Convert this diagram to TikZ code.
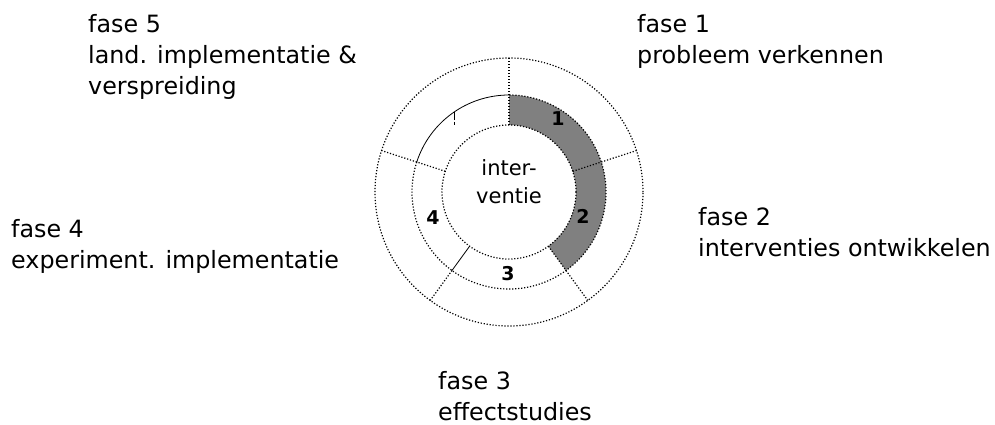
\documentclass[tikz,border=0pt]{standalone}
\usepackage{fontspec}
\setmainfont{DejaVu Sans}
\definecolor{phasegray}{HTML}{808080}
\begin{document}
\begin{tikzpicture}[x=1pt,y=-1pt,
  dots/.style={line width=1.2pt, dash pattern=on 1.2pt off 1.8pt},
  fine/.style={line width=0.8pt},
  phase/.style={anchor=base west, align=left, inner sep=0pt,
    font=\fontsize{23.8}{31}\selectfont},
  num/.style={inner sep=0pt, font=\fontsize{19}{19}\selectfont\bfseries},
  core/.style={anchor=base, inner sep=0pt, font=\fontsize{21}{28}\selectfont}]
\useasboundingbox (0,0) rectangle (995,425);

% the wheel, centred on (509,192), angles counted counter-clockwise
\begin{scope}[shift={(509,192)}, y=1pt]
  \coordinate (c) at (0,0);
  % phases 1 and 2 shaded in the middle ring
  \fill[phasegray] (90:67pt) arc[start angle=90, end angle=-54, radius=67pt]
    -- (-54:97pt) arc[start angle=-54, end angle=90, radius=97pt] -- cycle;
  % rings
  \draw[dots] (c) circle[radius=134pt];
  \draw[dots] (c) circle[radius=67pt];
  \draw[fine] (90:97pt) arc[start angle=90, end angle=162, radius=97pt];
  \draw[dots] (162:97pt) arc[start angle=162, end angle=450, radius=97pt];
  % sector borders
  \foreach \a in {90,18,-54,162}
    \draw[dots] (\a:67pt) -- (\a:134pt);
  \draw[fine] (-126:67pt) -- (-126:97pt);
  \draw[dots] (-126:97pt) -- (-126:134pt);
  % small tick on the middle ring
  \draw[fine, dash pattern=on 8pt off 2pt on 3pt] (-55,80) -- (-55,67);
  % phase numbers
  \node[num] (n1) at (49,73) {1};
  \node[num] (n2) at (74,-24) {2};
  \node[num] (n3) at (-1,-82) {3};
  \node[num] (n4) at (-76,-26) {4};
\end{scope}

% centre text
\node[core] (core1) at (509,175) {inter-};
\node[core] (core2) at (509,203) {ventie};

% phase descriptions (anchored on the baseline of the last line)
\node[phase] (f5) at (88,95) {fase 5\\land. implementatie \&\\verspreiding};
\node[phase] (f1) at (637,64) {fase 1\\probleem verkennen};
\node[phase] (f4) at (11,268) {fase 4\\experiment. implementatie};
\node[phase] (f2) at (698,256) {fase 2\\interventies ontwikkelen};
\node[phase] (f3) at (438,420) {fase 3\\effectstudies};
\end{tikzpicture}
\end{document}
